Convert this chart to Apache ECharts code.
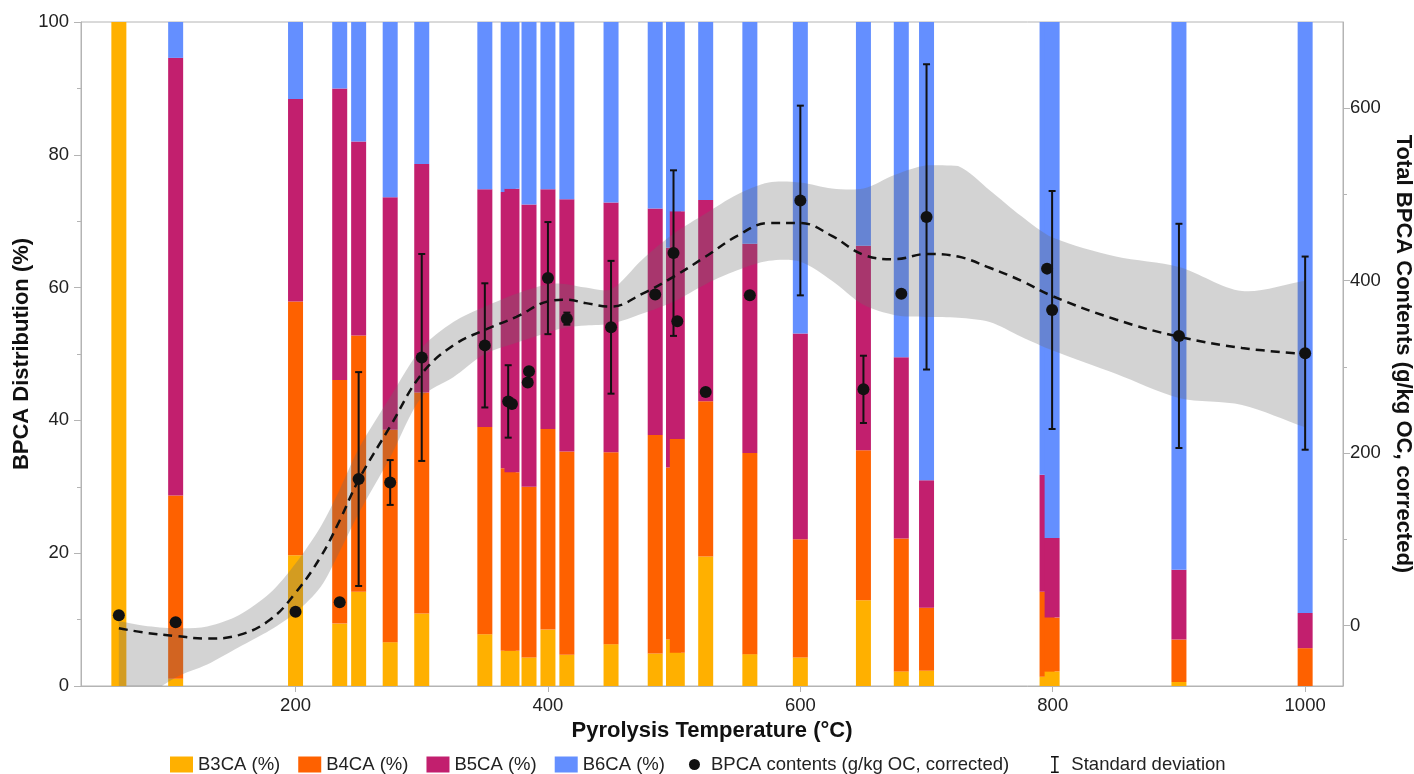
<!DOCTYPE html>
<html>
<head>
<meta charset="utf-8">
<title>BPCA distribution vs pyrolysis temperature</title>
<script src="https://cdn.jsdelivr.net/npm/echarts@6/dist/echarts.min.js"></script>
<style>
  html, body { margin: 0; padding: 0; background: #fff; }
  #chart { width: 1414px; height: 774px; }
</style>
</head>
<body>
<div id="chart"></div>
<script>
// stacked bars, back layer (one bar per sample)
const barTemp = [60, 105, 200, 235, 250, 275, 300, 350, 368.5, 385, 400, 415, 450, 485, 499.5, 525, 560, 600, 650, 680, 700, 795.5, 900, 1000]
const b3ca = [100, 1.1, 19.7, 9.4, 14.2, 6.6, 10.9, 7.8, 5.3, 4.3, 8.5, 4.7, 6.3, 4.9, 7.0, 19.5, 4.8, 4.3, 12.9, 2.2, 2.3, 1.4, 0.6, 0]
const b4ca = [0, 27.6, 38.2, 36.7, 38.6, 32.0, 33.3, 31.2, 27.5, 25.7, 30.2, 30.6, 28.9, 32.9, 25.9, 23.4, 30.3, 17.8, 22.6, 20.0, 9.5, 12.8, 6.4, 5.7]
const b5ca = [0, 65.9, 30.5, 43.9, 29.2, 35.0, 34.4, 35.8, 41.6, 42.5, 36.1, 38.0, 37.6, 34.1, 33.1, 30.3, 31.5, 31.0, 30.8, 27.3, 19.2, 17.6, 10.5, 5.3]
const b6ca = [0, 5.4, 11.6, 10.0, 18.0, 26.4, 21.4, 25.2, 25.6, 27.5, 25.2, 26.7, 27.2, 28.1, 34.0, 26.8, 33.4, 46.9, 33.7, 50.5, 69.0, 68.2, 82.5, 89.0]

// bars that overlap a neighbour and sit in front of it
const frontTemp = [371.5, 502.5, 799.5]
const frontB3ca = [5.3, 5.0, 2.2]
const frontB4ca = [26.9, 32.2, 8.1]
const frontB5ca = [42.7, 34.3, 12.0]
const frontB6ca = [25.1, 28.5, 77.7]

// total BPCA contents (g/kg OC) and standard deviation
const ptTemp = [60, 105, 200, 235, 250, 275, 300, 350, 368.5, 371.5, 384, 385, 400, 415, 450, 485, 499.5, 502.5, 525, 560, 600, 650, 680, 700, 795.5, 799.5, 900, 1000]
const ptValue = [12, 4, 16, 27, 170, 166, 311, 325, 260, 257, 282, 295, 403, 356, 346, 384, 432, 353, 271, 383, 493, 274, 385, 474, 414, 366, 336, 316]
const ptSd = [null, null, null, null, 124, 26, 120, 72, 42, null, null, null, 65, 7, 77, null, 96, null, null, null, 110, 39, null, 177, null, 138, 130, 112]

// smoothed fit and its confidence band
const fitTemp = [60, 80, 105, 130, 155, 180, 200, 220, 235, 250, 275, 300, 325, 350, 375, 400, 415, 430, 450, 475, 500, 525, 550, 575, 600, 625, 650, 675, 700, 725, 750, 775, 800, 850, 900, 950, 1000]
const fitValue = [-3, -8, -12, -15, -11, 7, 38, 80, 122, 169, 231, 292, 325, 343, 358, 376, 378, 374, 370, 385, 405, 428, 452, 467, 467, 452, 430, 425, 431, 428, 415, 400, 382, 355, 335, 322, 315]
const bandUpper = [5, 0, -3, -1, 12, 38, 72, 115, 158, 205, 265, 322, 352, 370, 385, 396, 396, 392, 390, 425, 455, 478, 500, 514, 514, 507, 507, 523, 534, 533, 505, 475, 450, 428, 416, 388, 400]
const bandLower = [-110, -85, -60, -45, -25, -5, 15, 45, 86, 130, 195, 265, 288, 315, 328, 340, 346, 348, 350, 362, 376, 396, 412, 423, 422, 400, 372, 360, 358, 357, 352, 335, 319, 292, 264, 256, 230]

const fontFamily = 'Liberation Sans, Arial, sans-serif'
const colors = ['#FFB000', '#FE6100', '#C21F6E', '#648FFF']
const names = ['B3CA (%)', 'B4CA (%)', 'B5CA (%)', 'B6CA (%)']

function pairs(xs, ys) {
  return xs.map((x, i) => [x, ys[i]])
}

// rows [temp, b3, b4, b5, b6]; front bars go last so they are drawn on top
const stackRows = barTemp.map((t, i) => [t, b3ca[i], b4ca[i], b5ca[i], b6ca[i]])
  .concat(frontTemp.map((t, i) => [t, frontB3ca[i], frontB4ca[i], frontB5ca[i], frontB6ca[i]]))

function clipRect(params) {
  const cs = params.coordSys
  return { type: 'rect', shape: { x: cs.x, y: cs.y, width: cs.width, height: cs.height } }
}

// one stacked bar: four rects piled up through the left axis
function renderStack(params, api) {
  const t = api.value(0)
  const w = 15
  let base = 0
  const children = []
  for (let k = 0; k < 4; k++) {
    const v = api.value(k + 1)
    const p0 = api.coord([t, base])
    const p1 = api.coord([t, base + v])
    children.push({
      type: 'rect',
      shape: { x: p0[0] - w / 2, y: p1[1], width: w, height: p0[1] - p1[1] },
      style: { fill: colors[k] }
    })
    base += v
  }
  return { type: 'group', children: children }
}

// confidence band as one polygon (upper edge, then lower edge backwards)
// end points are doubled so the two vertical ends keep sharp corners
function renderBand(params, api) {
  if (params.dataIndex !== 0) return
  const n = fitTemp.length
  const upper = fitTemp.map((t, i) => api.coord([t, bandUpper[i]]))
  const lower = fitTemp.map((t, i) => api.coord([t, bandLower[i]])).reverse()
  const pts = [upper[0]].concat(upper, [upper[n - 1]], [lower[0]], lower, [lower[n - 1]])
  const xs = pts.map(p => p[0])
  const ys = pts.map(p => p[1])
  return {
    type: 'polygon',
    shape: {
      points: pts,
      smooth: 0.3,
      smoothConstraint: [[Math.min(...xs), Math.min(...ys)], [Math.max(...xs), Math.max(...ys)]]
    },
    style: { fill: 'rgba(110,110,110,0.3)' },
    clipPath: clipRect(params)
  }
}

// error bar: vertical line with small caps
function renderErrorBar(params, api) {
  const x = api.value(0)
  const top = api.coord([x, api.value(2)])
  const bottom = api.coord([x, api.value(1)])
  const half = 3.5
  const style = { stroke: '#111', lineWidth: 2 }
  return {
    type: 'group',
    children: [
      { type: 'line', shape: { x1: top[0], y1: top[1], x2: bottom[0], y2: bottom[1] }, style: style },
      { type: 'line', shape: { x1: top[0] - half, y1: top[1], x2: top[0] + half, y2: top[1] }, style: style },
      { type: 'line', shape: { x1: bottom[0] - half, y1: bottom[1], x2: bottom[0] + half, y2: bottom[1] }, style: style }
    ]
  }
}

const errorData = []
ptTemp.forEach((t, i) => {
  if (ptSd[i] != null) errorData.push([t, ptValue[i] - ptSd[i], ptValue[i] + ptSd[i]])
})

const axisGrey = '#b4b4b4'
const labelStyle = { fontSize: 18.5, color: '#222', fontFamily: fontFamily }
const nameStyle = { fontSize: 22, fontWeight: 'bold', color: '#111', fontFamily: fontFamily }
const legendText = { fontSize: 18.5, color: '#222', fontFamily: fontFamily }
const plain = v => String(v)

// small dot inside a 23x16 box, so it stays smaller than the swatches
const dotIcon = 'path://M0,0 M23,16 M11.5,2.5 A5.5,5.5 0 1,1 11.5,13.5 A5.5,5.5 0 1,1 11.5,2.5 Z'
const sdIcon = 'path://M0,0 L10,0 L10,2 L6,2 L6,20 L10,20 L10,22 L0,22 L0,20 L4,20 L4,2 L0,2 Z'

const chart = echarts.init(document.getElementById('chart'))

const option = {
  animation: false,
  backgroundColor: '#fff',
  grid: {
    left: 81, right: 71, top: 22, bottom: 88,
    containLabel: false, outerBoundsMode: 'none',
    show: true, borderColor: axisGrey, borderWidth: 1
  },
  legend: [
    {
      top: 750,
      left: 165,
      itemWidth: 23,
      itemHeight: 16,
      itemGap: 18,
      textStyle: legendText,
      data: [
        { name: names[0], icon: 'rect' },
        { name: names[1], icon: 'rect' },
        { name: names[2], icon: 'rect' },
        { name: names[3], icon: 'rect' },
        { name: 'BPCA contents (g/kg OC, corrected)', icon: dotIcon }
      ]
    },
    {
      top: 750,
      left: 1046,
      itemWidth: 23,
      itemHeight: 17,
      textStyle: legendText,
      data: [
        { name: 'Standard deviation', icon: sdIcon }
      ]
    }
  ],
  xAxis: [
    {
      type: 'value',
      min: 30,
      max: 1030,
      name: 'Pyrolysis Temperature (°C)',
      nameLocation: 'middle',
      nameGap: 34,
      nameTextStyle: nameStyle,
      axisLine: { show: true, lineStyle: { color: axisGrey } },
      axisTick: { show: true, length: 6, lineStyle: { color: axisGrey }, customValues: [200, 400, 600, 800, 1000] },
      axisLabel: Object.assign({ margin: 10, formatter: plain, customValues: [200, 400, 600, 800, 1000] }, labelStyle),
      splitLine: { show: false }
    },
    {
      // minor ticks only
      type: 'value',
      min: 30,
      max: 1030,
      position: 'bottom',
      axisLine: { show: false },
      axisTick: { show: true, length: 4, lineStyle: { color: axisGrey }, customValues: [100, 300, 500, 700, 900] },
      axisLabel: { show: false },
      splitLine: { show: false }
    }
  ],
  yAxis: [
    {
      type: 'value',
      min: 0,
      max: 100,
      interval: 20,
      name: 'BPCA Distribution (%)',
      nameLocation: 'middle',
      nameGap: 48,
      nameMoveOverlap: false,
      nameTextStyle: nameStyle,
      axisLine: { show: true, lineStyle: { color: axisGrey } },
      axisTick: { show: true, length: 7, lineStyle: { color: axisGrey } },
      minorTick: { show: true, splitNumber: 2, length: 4, lineStyle: { color: axisGrey } },
      axisLabel: Object.assign({ margin: 12 }, labelStyle),
      splitLine: { show: false }
    },
    {
      type: 'value',
      position: 'right',
      min: -70,
      max: 700,
      name: 'Total BPCA Contents (g/kg OC, corrected)',
      nameLocation: 'middle',
      nameRotate: -90,
      nameGap: 49,
      nameTextStyle: nameStyle,
      axisLine: { show: true, lineStyle: { color: axisGrey } },
      axisTick: { show: true, length: 7, lineStyle: { color: axisGrey }, customValues: [0, 200, 400, 600] },
      axisLabel: Object.assign({ margin: 7, formatter: plain, customValues: [0, 200, 400, 600] }, labelStyle),
      splitLine: { show: false }
    },
    {
      // minor ticks of the right axis
      type: 'value',
      position: 'right',
      min: -70,
      max: 700,
      axisLine: { show: false },
      axisTick: { show: true, length: 4, lineStyle: { color: axisGrey }, customValues: [100, 300, 500] },
      axisLabel: { show: false },
      splitLine: { show: false }
    }
  ],
  series: [
    // empty bar series, only for the legend swatches
    ...names.map((n, k) => ({ name: n, type: 'bar', itemStyle: { color: colors[k] }, data: [] })),
    {
      name: 'stacks',
      type: 'custom',
      xAxisIndex: 0,
      yAxisIndex: 0,
      silent: true,
      renderItem: renderStack,
      encode: { x: 0, y: [1, 2, 3, 4] },
      data: stackRows
    },
    {
      name: 'band',
      type: 'custom',
      xAxisIndex: 0,
      yAxisIndex: 1,
      silent: true,
      renderItem: renderBand,
      encode: { x: 0, y: 1 },
      data: pairs(fitTemp, fitValue)
    },
    {
      name: 'fit',
      type: 'line',
      yAxisIndex: 1,
      smooth: 0.4,
      symbol: 'none',
      silent: true,
      lineStyle: { color: '#111', width: 2.5, type: [9, 6] },
      data: pairs(fitTemp, fitValue)
    },
    {
      name: 'Standard deviation',
      type: 'custom',
      xAxisIndex: 0,
      yAxisIndex: 1,
      renderItem: renderErrorBar,
      itemStyle: { color: '#111' },
      encode: { x: 0, y: [1, 2] },
      data: errorData
    },
    {
      name: 'BPCA contents (g/kg OC, corrected)',
      type: 'scatter',
      yAxisIndex: 1,
      symbolSize: 12,
      itemStyle: { color: '#111', opacity: 1 },
      data: pairs(ptTemp, ptValue)
    }
  ]
}

chart.setOption(option)
</script>
</body>
</html>
